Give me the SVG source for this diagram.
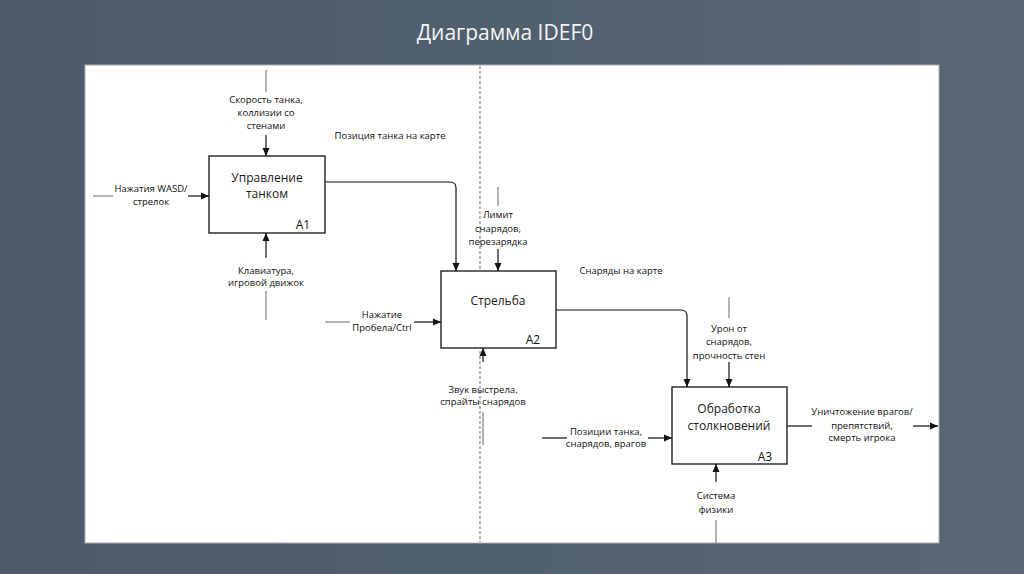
<svg xmlns="http://www.w3.org/2000/svg" width="1024" height="574" viewBox="0 0 1024 574">
<defs>
<linearGradient id="bg" x1="0" y1="0" x2="1" y2="0">
<stop offset="0" stop-color="#4c5a6b"/>
<stop offset="0.5" stop-color="#516070"/>
<stop offset="1" stop-color="#596674"/>
</linearGradient>
<marker id="ah" viewBox="0 0 8 8" refX="8" refY="4" markerWidth="8" markerHeight="8" markerUnits="userSpaceOnUse" orient="auto">
<path d="M0,0.5 L8,4 L0,7.5 Z" fill="#111"/>
</marker>
<style>
.lbl{font-family:"Open Sans","Noto Sans","DejaVu Sans",sans-serif;font-size:9.5px;fill:#111;text-anchor:middle}
.box{fill:#fff;stroke:#111;stroke-width:1.3}
.bt{font-family:"Open Sans","Noto Sans","DejaVu Sans",sans-serif;font-size:12px;fill:#1a1a1a;text-anchor:middle}
.bn{font-family:"Open Sans","Noto Sans","DejaVu Sans",sans-serif;font-size:12px;fill:#111;text-anchor:middle}
.arr{fill:none;stroke:#111;stroke-width:1.2;marker-end:url(#ah)}
.ln{fill:none;stroke:#111;stroke-width:1.2}
.tail{fill:none;stroke:#666;stroke-width:1}
</style>
</defs>
<rect x="0" y="0" width="1024" height="574" fill="url(#bg)"/>
<text x="505" y="40" font-family="Open Sans, Noto Sans, sans-serif" font-size="21" fill="#f4f4f4" text-anchor="middle">Диаграмма IDEF0</text>
<rect x="85" y="65" width="854" height="478" fill="#fff" stroke="#a8adb3" stroke-width="1"/>
<line x1="480" y1="66" x2="480" y2="542" stroke="#8a8a8a" stroke-width="1.2" stroke-dasharray="3,2"/>

<g id="connectors">
<line class="tail" x1="266" y1="70" x2="266" y2="92"/>
<line class="arr" x1="266" y1="135" x2="266" y2="156"/>
<text class="lbl" x="266" y="103">Скорость танка,</text>
<text class="lbl" x="266" y="116">коллизии со</text>
<text class="lbl" x="266" y="129">стенами</text>
<line class="tail" x1="93" y1="196" x2="113" y2="196"/>
<line class="arr" x1="188" y1="196" x2="209" y2="196"/>
<text class="lbl" x="151" y="192">Нажатия WASD/</text>
<text class="lbl" x="151" y="205">стрелок</text>
<line class="arr" x1="266" y1="258" x2="266" y2="233"/>
<line class="tail" x1="266" y1="291" x2="266" y2="320"/>
<text class="lbl" x="266" y="274">Клавиатура,</text>
<text class="lbl" x="266" y="286">игровой движок</text>
<path class="arr" d="M325,182 H450 Q456,182 456,188 V271"/>
<text class="lbl" x="390" y="139">Позиция танка на карте</text>
<line class="tail" x1="498" y1="187" x2="498" y2="206"/>
<line class="arr" x1="498" y1="249" x2="498" y2="271"/>
<text class="lbl" x="498" y="218">Лимит</text>
<text class="lbl" x="498" y="232">снарядов,</text>
<text class="lbl" x="498" y="245">перезарядка</text>
<line class="tail" x1="325" y1="322" x2="350" y2="322"/>
<line class="arr" x1="414" y1="322" x2="441" y2="322"/>
<text class="lbl" x="382" y="318">Нажатие</text>
<text class="lbl" x="382" y="331">Пробела/Ctrl</text>
<line class="arr" x1="483" y1="362" x2="483" y2="348"/>
<line class="tail" x1="483" y1="412" x2="483" y2="445"/>
<text class="lbl" x="483" y="393">Звук выстрела,</text>
<text class="lbl" x="483" y="405">спрайты снарядов</text>
<path class="arr" d="M556,310 H681 Q687,310 687,316 V387"/>
<text class="lbl" x="621" y="274">Снаряды на карте</text>
<line class="tail" x1="729" y1="297" x2="729" y2="318"/>
<line class="arr" x1="729" y1="362" x2="729" y2="387"/>
<text class="lbl" x="729" y="332">Урон от</text>
<text class="lbl" x="729" y="345">снарядов,</text>
<text class="lbl" x="729" y="359">прочность стен</text>
<line class="ln" x1="542" y1="438" x2="567" y2="438"/>
<line class="arr" x1="648" y1="438" x2="672" y2="438"/>
<text class="lbl" x="606" y="435">Позиции танка,</text>
<text class="lbl" x="606" y="447">снарядов, врагов</text>
<line class="ln" x1="787" y1="426" x2="812" y2="426"/>
<line class="arr" x1="913" y1="426" x2="938" y2="426"/>
<text class="lbl" x="862" y="415">Уничтожение врагов/</text>
<text class="lbl" x="862" y="429">препятствий,</text>
<text class="lbl" x="862" y="441">смерть игрока</text>
<line class="arr" x1="716" y1="482" x2="716" y2="464"/>
<line class="tail" x1="716" y1="520" x2="716" y2="543"/>
<text class="lbl" x="716" y="499">Система</text>
<text class="lbl" x="716" y="513">физики</text>
</g>

<g id="A1">
<rect class="box" x="209" y="156" width="116" height="77"/>
<text class="bt" x="267" y="182">Управление</text>
<text class="bt" x="267" y="198">танком</text>
<text class="bn" x="303" y="229">A1</text>
</g>
<g id="A2">
<rect class="box" x="441" y="271" width="115" height="77"/>
<text class="bt" x="498" y="305">Стрельба</text>
<text class="bn" x="533" y="344">A2</text>
</g>
<g id="A3">
<rect class="box" x="672" y="387" width="115" height="77"/>
<text class="bt" x="729" y="413">Обработка</text>
<text class="bt" x="729" y="430">столкновений</text>
<text class="bn" x="765" y="461">A3</text>
</g>
</svg>
